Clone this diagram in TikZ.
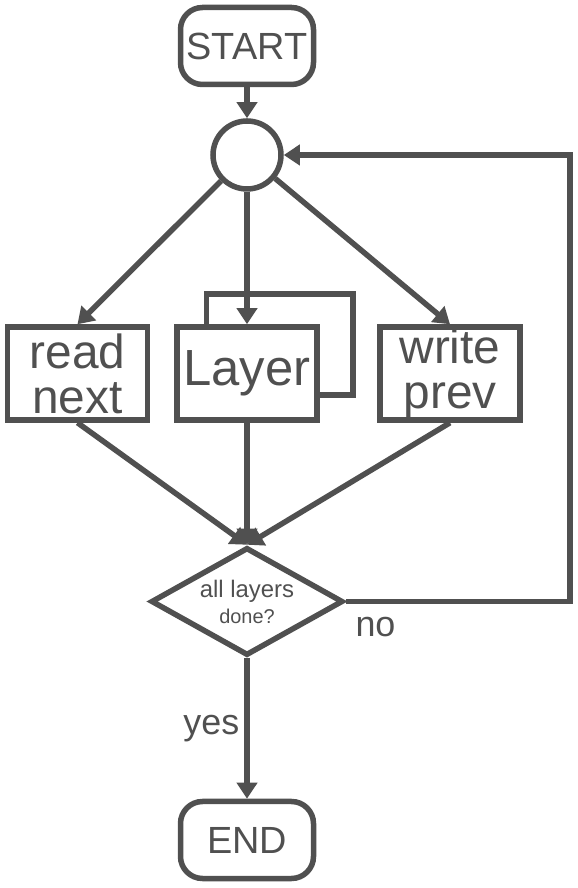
\documentclass[tikz,border=0pt]{standalone}
\usepackage{fontspec}
\setmainfont{Liberation Sans}
\usetikzlibrary{shapes.geometric,arrows.meta}
\definecolor{ink}{RGB}{80,80,80}

\begin{document}
\begin{tikzpicture}[x=1bp,y=1bp,
    every node/.style={text=ink},
    line/.style={draw=ink,line width=5.5bp},
    arr/.style={line,-{Triangle[length=16bp,width=20bp]}},
    term/.style={line,rounded corners=22bp,minimum width=133bp,minimum height=77bp,
                 inner sep=0pt,font=\fontsize{38}{44}\selectfont},
    box/.style={line,minimum width=140bp,minimum height=93bp,inner sep=0pt,
                align=center,font=\fontsize{48}{45}\selectfont}]
% Canvas
\useasboundingbox (0,0) rectangle (578,888);

% Terminals
\node[term] (start) at (247,842) {START};
\node[term] (end) at (247,48) {END};

% Hub
\node[line,circle,minimum size=68bp,inner sep=0pt] (hub) at (247,733) {};

% Steps
\node[box] (read) at (77.5,514.5) {read\\next};
\node[box,font=\fontsize{51}{46}\selectfont] (layer) at (247,514.5) {Layer};
\node[box] (write) at (450,514.5) {write\\prev};

% Decision
\node[line,diamond,aspect=1.8,minimum width=192bp,minimum height=108bp,inner sep=0pt,
      align=center,font=\fontsize{20}{26}\selectfont] (check) at (247,286.5)
      {{\fontsize{24}{26}\selectfont all layers}\\done?};
\coordinate (rim) at (570,0);

% Connectors
\draw[arr] (start) -- (hub);
\draw[arr] (hub) -- (read.north);
\draw[arr] (hub) -- (layer.north);
\draw[arr] (hub) -- (write.north);
\foreach \n in {read,layer,write}
    \draw[arr] (\n.south) -- (check.north);

% Layer self loop
\draw[line] ([yshift=-21.5bp]layer.east) -- ++(33,0)
    |- ([xshift=32bp,yshift=30bp]layer.north west) -- ([xshift=32bp]layer.north west);

% Back to hub
\draw[arr] (check.east) node[anchor=north west,inner sep=0pt,xshift=7bp,yshift=-13bp,
    font=\fontsize{36}{40}\selectfont] {no} -- (check.east -| rim) |- (hub.east);

% Finish
\draw[arr] (check.south) -- (end.north)
    node[midway,left,inner sep=5bp,font=\fontsize{36}{40}\selectfont] {yes};

\end{tikzpicture}
\end{document}
